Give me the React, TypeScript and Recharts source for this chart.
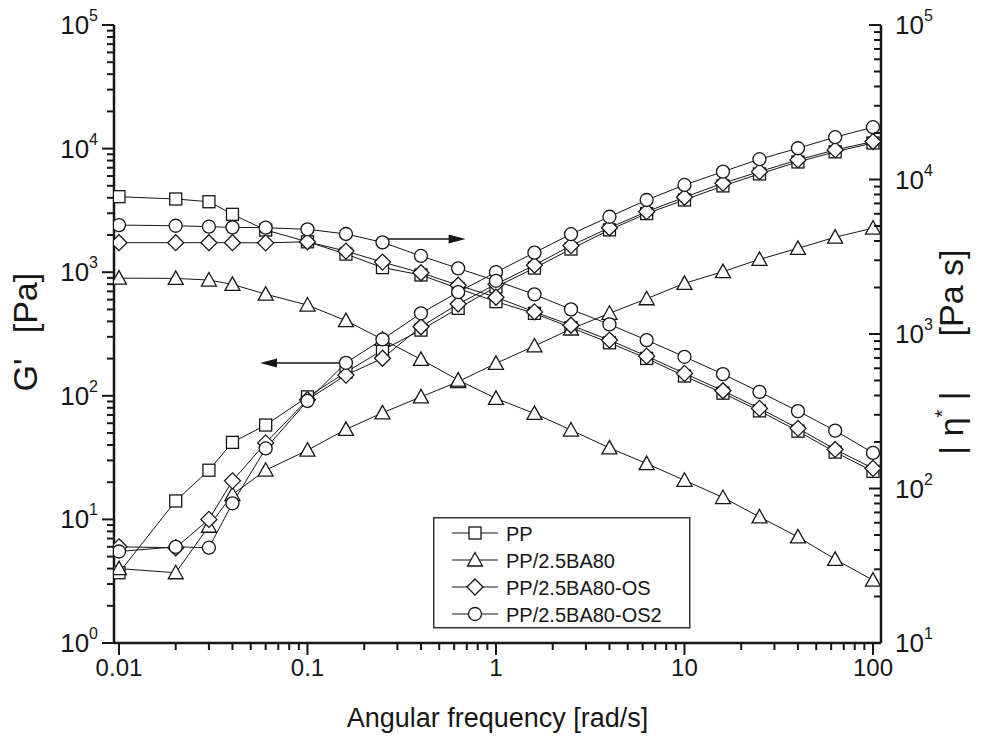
import React from 'react';
import { LineChart, Line, XAxis, YAxis, ReferenceLine, Legend } from 'recharts';

const freq = [0.01, 0.02, 0.03, 0.04, 0.06, 0.1, 0.16, 0.25, 0.4, 0.63, 1, 1.6, 2.5, 4, 6.3, 10, 16, 25, 40, 63, 100];

// storage modulus G' [Pa] (left axis)
const gPP = [3.7, 14.1, 25, 42, 58, 98, 155, 234, 340, 510, 760, 1080, 1540, 2200, 2980, 3840, 4990, 6240, 7800, 9420, 11100];
const gBA = [4.0, 3.7, 8.8, 15.9, 25, 36.3, 53.5, 72.8, 98, 130, 183, 253, 347, 465, 610, 813, 1010, 1270, 1560, 1920, 2270];
const gOS = [6.0, 5.9, 10, 20.5, 41.6, 93, 147, 201, 362, 553, 800, 1140, 1640, 2290, 3090, 4040, 5250, 6510, 8100, 9760, 11400];
const gOS2 = [5.5, 6.0, 5.9, 13.5, 37.5, 91, 185, 286, 465, 690, 1000, 1440, 2030, 2810, 3840, 5080, 6510, 8210, 10070, 12370, 14900];

// complex viscosity |eta*| [Pa s] (right axis)
const etaPP = [7740, 7480, 7180, 5950, 4710, 3950, 3290, 2690, 2410, 1970, 1620, 1360, 1100, 877, 695, 534, 414, 318, 235, 172, 129];
const etaBA = [2300, 2290, 2235, 2095, 1810, 1540, 1220, 923, 685, 503, 383, 306, 239, 183, 145, 113, 87.4, 65.5, 48.6, 34.8, 25.5];
const etaOS = [3900, 3900, 3900, 3900, 3890, 3950, 3440, 2920, 2490, 2070, 1730, 1390, 1140, 913, 719, 556, 429, 330, 245, 179, 135];
const etaOS2 = [5070, 5020, 4950, 4900, 4875, 4760, 4440, 3920, 3200, 2660, 2210, 1805, 1443, 1154, 913, 712, 550, 422, 317, 237, 170];

const seriesNames = ['PP', 'PP/2.5BA80', 'PP/2.5BA80-OS', 'PP/2.5BA80-OS2'];

const xMajor = [0.01, 0.1, 1, 10, 100];
const xMajorLabels = ['0.01', '0.1', '1', '10', '100'];
const leftExps = [0, 1, 2, 3, 4, 5];
const rightExps = [1, 2, 3, 4, 5];

const rows = freq.map((f, i) => ({
  f,
  gPP: gPP[i], gBA: gBA[i], gOS: gOS[i], gOS2: gOS2[i],
  etaPP: etaPP[i], etaBA: etaBA[i], etaOS: etaOS[i], etaOS2: etaOS2[i],
}));

const FONT = '"Liberation Sans", Arial, Helvetica, sans-serif';
const INK = '#161616';

const logTicks = (lo: number, hi: number, dmin: number, dmax: number) => {
  const out: number[] = [];
  for (let d = lo; d <= hi; d++) {
    for (let k = 1; k <= 9; k++) {
      const v = parseFloat((k * Math.pow(10, d)).toPrecision(6));
      if (v >= dmin && v <= dmax) out.push(v);
    }
  }
  return out;
};
const xDomain = [0.00941, 110.3];
const xTicks = logTicks(-2, 2, xDomain[0], xDomain[1]);
const leftTicks = logTicks(0, 5, 1, 100000);
const rightTicks = logTicks(1, 5, 10, 100000);

const isMajor = (v: number) => Math.abs(Math.log10(v) - Math.round(Math.log10(v))) < 1e-6;

const marker = (shape: string, cx: number, cy: number, key?: string) => {
  const st = { fill: '#fff', stroke: INK, strokeWidth: 1.3 };
  if (shape === 'square') return <rect key={key} x={cx - 6} y={cy - 6} width={12} height={12} {...st} />;
  if (shape === 'triangle')
    return <polygon key={key} points={`${cx},${cy - 7.5} ${cx - 7.5},${cy + 6} ${cx + 7.5},${cy + 6}`} {...st} />;
  if (shape === 'diamond')
    return <polygon key={key} points={`${cx},${cy - 8} ${cx + 8},${cy} ${cx},${cy + 8} ${cx - 8},${cy}`} {...st} />;
  return <circle key={key} cx={cx} cy={cy} r={6.5} {...st} />;
};

const shapes = ['square', 'triangle', 'diamond', 'circle'];

const XTick = ({ x, y, payload }: any) => {
  const v = payload.value;
  const major = isMajor(v);
  const idx = xMajor.findIndex((m) => Math.abs(m - v) / m < 1e-6);
  return (
    <g>
      <line x1={x} y1={y} x2={x} y2={y + (major ? 12 : 7)} stroke={INK} strokeWidth={2} />
      {idx >= 0 && (
        <text x={x} y={y + 33} textAnchor="middle" fontSize={24} fill={INK} fontFamily={FONT}>
          {xMajorLabels[idx]}
        </text>
      )}
    </g>
  );
};

const makeYTick = (side: 'left' | 'right', exps: number[]) => ({ x, y, payload }: any) => {
  const v = payload.value;
  const major = isMajor(v);
  const len = major ? 12 : 7;
  const e = Math.round(Math.log10(v));
  const show = major && exps.includes(e);
  return (
    <g>
      <line x1={x} y1={y} x2={x - len} y2={y} stroke={INK} strokeWidth={2} />
      {show && (
        <text
          x={side === 'left' ? x - 16 : x + 14}
          y={y + 9}
          textAnchor={side === 'left' ? 'end' : 'start'}
          fontSize={26}
          fill={INK}
          fontFamily={FONT}
        >
          10
          <tspan fontSize={16} dy={-13}>{e}</tspan>
        </text>
      )}
    </g>
  );
};

const Arrow = (props: any) => {
  const { x1, y1, x2, y2 } = props;
  const dir = Math.sign(x2 - x1);
  return (
    <g>
      <line x1={x1} y1={y1} x2={x2 - dir * 14} y2={y2} stroke={INK} strokeWidth={1.6} />
      <polygon points={`${x2},${y2} ${x2 - dir * 17},${y2 - 4.5} ${x2 - dir * 17},${y2 + 4.5}`} fill={INK} />
    </g>
  );
};

const renderLegend = () => (
  <svg width={258} height={112} style={{ display: 'block' }}>
    <rect x={0.75} y={0.75} width={256} height={110} fill="#fff" stroke="#333" strokeWidth={1.5} />
    {seriesNames.map((n, i) => {
      const cy = 16 + i * 27;
      return (
        <g key={n}>
          <line x1={19} y1={cy} x2={65} y2={cy} stroke={INK} strokeWidth={1.2} />
          {marker(shapes[i], 42, cy)}
          <text x={73} y={cy + 7.5} fontSize={20} fill={INK} fontFamily={FONT}>
            {n}
          </text>
        </g>
      );
    })}
  </svg>
);

const XTitle = ({ viewBox }: any) => (
  <text x={viewBox.x + viewBox.width / 2} y={727} textAnchor="middle" fontSize={27} fill={INK} fontFamily={FONT}>
    Angular frequency [rad/s]
  </text>
);

const rotText = (x: number, y: number, size: number, children: any) => (
  <text
    x={x}
    y={y}
    transform={`rotate(-90 ${x} ${y})`}
    textAnchor="middle"
    fontSize={size}
    fill={INK}
    fontFamily={FONT}
    style={{ whiteSpace: 'pre' }}
  >
    {children}
  </text>
);

const LeftTitle = () => (
  <g>
    {rotText(37, 375, 34, "G'")}
    {rotText(37, 303, 34, '[Pa]')}
  </g>
);

const RightTitle = () => (
  <g>
    {rotText(963, 423, 34, [
      '| η',
      <tspan key="s" fontSize={20} dy={-14}>*</tspan>,
      <tspan key="b" dy={14}>{' |'}</tspan>,
    ])}
    {rotText(963, 293, 34, '[Pa s]')}
  </g>
);

const lines = [
  { key: 'gPP', axis: 'left', shape: 'square' },
  { key: 'etaPP', axis: 'right', shape: 'square' },
  { key: 'gBA', axis: 'left', shape: 'triangle' },
  { key: 'etaBA', axis: 'right', shape: 'triangle' },
  { key: 'gOS', axis: 'left', shape: 'diamond' },
  { key: 'etaOS', axis: 'right', shape: 'diamond' },
  { key: 'gOS2', axis: 'left', shape: 'circle' },
  { key: 'etaOS2', axis: 'right', shape: 'circle' },
];

export default function App() {
  return (
    <div style={{ position: 'absolute', left: 0, top: 0, width: 981, height: 740, background: '#fff' }}>
      <LineChart
        width={981}
        height={740}
        data={rows}
        margin={{ top: 25, right: 0, bottom: 0, left: 0 }}
        style={{ fontFamily: FONT }}
      >
        <XAxis
          dataKey="f"
          type="number"
          scale="log"
          domain={xDomain}
          allowDataOverflow
          ticks={xTicks}
          interval={0}
          height={97}
          tickSize={0}
          tickMargin={0}
          tickLine={false}
          tick={<XTick />}
          axisLine={{ stroke: INK, strokeWidth: 2.5 }}
          label={<XTitle />}
        />
        <YAxis
          yAxisId="left"
          orientation="left"
          type="number"
          scale="log"
          domain={[1, 100000]}
          allowDataOverflow
          ticks={leftTicks}
          interval={0}
          width={114}
          tickSize={0}
          tickMargin={0}
          tickLine={false}
          tick={makeYTick('left', leftExps)}
          axisLine={{ stroke: INK, strokeWidth: 2.5 }}
          label={<LeftTitle />}
        />
        <YAxis
          yAxisId="right"
          orientation="right"
          type="number"
          scale="log"
          domain={[10, 100000]}
          allowDataOverflow
          ticks={rightTicks}
          interval={0}
          width={100}
          tickSize={0}
          tickMargin={0}
          tickLine={false}
          tick={makeYTick('right', rightExps)}
          axisLine={{ stroke: INK, strokeWidth: 2.5 }}
          label={<RightTitle />}
        />
        {lines.map((l) => (
          <Line
            key={l.key}
            yAxisId={l.axis}
            dataKey={l.key}
            type="linear"
            stroke={INK}
            strokeWidth={1}
            isAnimationActive={false}
            activeDot={false}
            dot={(p: any) => marker(l.shape, p.cx, p.cy, `${l.key}-${p.index}`)}
          />
        ))}
        <ReferenceLine
          yAxisId="left"
          segment={[{ x: 0.154, y: 184 }, { x: 0.056, y: 184 }]}
          shape={<Arrow />}
          ifOverflow="visible"
        />
        <ReferenceLine
          yAxisId="right"
          segment={[{ x: 0.251, y: 4120 }, { x: 0.69, y: 4120 }]}
          shape={<Arrow />}
          ifOverflow="visible"
        />
        <Legend
          layout="vertical"
          align="center"
          verticalAlign="middle"
          content={renderLegend}
          wrapperStyle={{ left: 433, top: 517, width: 258, height: 112 }}
        />
      </LineChart>
    </div>
  );
}
